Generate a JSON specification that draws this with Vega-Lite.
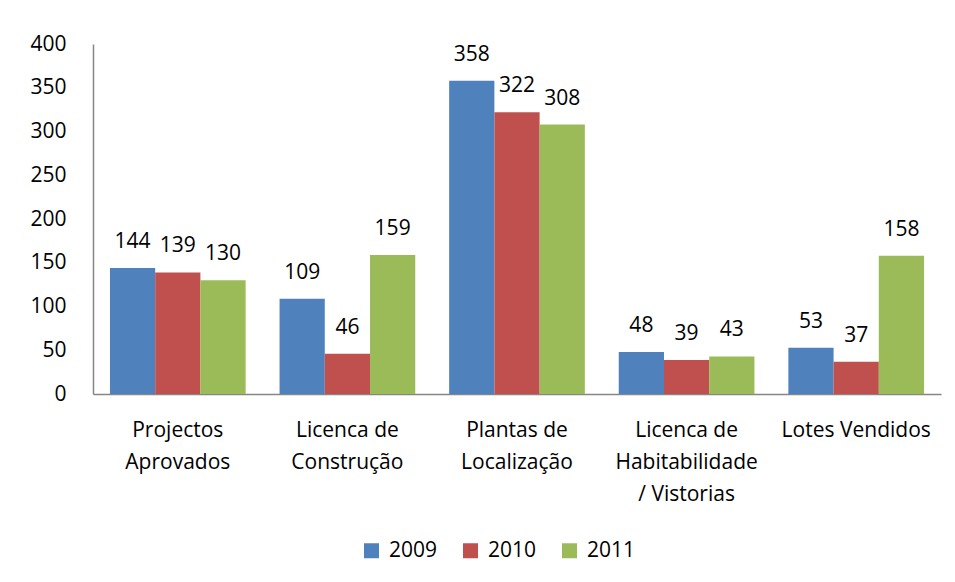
{
  "$schema": "https://vega.github.io/schema/vega-lite/v6.json",
  "autosize": {"type": "none"},
  "width": 848,
  "height": 350,
  "padding": {"left": 93, "top": 44, "right": 14, "bottom": 188},
  "background": "white",
  "config": {
    "view": {"stroke": null},
    "font": "Open Sans",
    "axis": {"labelFont": "Open Sans", "labelColor": "black", "labelFontSize": 21, "grid": false, "ticks": false, "domainColor": "#868686", "domainWidth": 1.5, "title": null},
    "legend": {"labelFont": "Open Sans", "labelFontSize": 21, "labelColor": "black"}
  },
  "data": {
    "values": [
      {"cat": "Projectos|Aprovados", "year": "2009", "v": 144},
      {"cat": "Projectos|Aprovados", "year": "2010", "v": 139},
      {"cat": "Projectos|Aprovados", "year": "2011", "v": 130},
      {"cat": "Licenca de|Construção", "year": "2009", "v": 109},
      {"cat": "Licenca de|Construção", "year": "2010", "v": 46},
      {"cat": "Licenca de|Construção", "year": "2011", "v": 159},
      {"cat": "Plantas de|Localização", "year": "2009", "v": 358},
      {"cat": "Plantas de|Localização", "year": "2010", "v": 322},
      {"cat": "Plantas de|Localização", "year": "2011", "v": 308},
      {"cat": "Licenca de|Habitabilidade|/ Vistorias", "year": "2009", "v": 48},
      {"cat": "Licenca de|Habitabilidade|/ Vistorias", "year": "2010", "v": 39},
      {"cat": "Licenca de|Habitabilidade|/ Vistorias", "year": "2011", "v": 43},
      {"cat": "Lotes Vendidos", "year": "2009", "v": 53},
      {"cat": "Lotes Vendidos", "year": "2010", "v": 37},
      {"cat": "Lotes Vendidos", "year": "2011", "v": 158}
    ]
  },
  "encoding": {
    "x": {
      "field": "cat", "type": "nominal", "sort": null,
      "scale": {"paddingInner": 0.2, "paddingOuter": 0.1},
      "axis": {"labelAngle": 0, "labelPadding": 25, "labelLineHeight": 32, "labelExpr": "split(datum.value, '|')", "labelLimit": 300}
    },
    "xOffset": {"field": "year", "type": "nominal", "scale": {"paddingInner": 0}},
    "y": {
      "field": "v", "type": "quantitative",
      "scale": {"domain": [0, 400], "nice": false},
      "axis": {"values": [0, 50, 100, 150, 200, 250, 300, 350, 400], "labelPadding": 27}
    }
  },
  "layer": [
    {
      "mark": {"type": "bar"},
      "encoding": {
        "color": {
          "field": "year", "type": "nominal",
          "scale": {"domain": ["2009", "2010", "2011"], "range": ["#4F81BD", "#C0504D", "#9BBB59"]},
          "legend": {"orient": "none", "legendX": 268, "legendY": 496, "direction": "horizontal", "title": null, "symbolType": "square", "symbolSize": 225, "symbolStrokeWidth": 0, "columnPadding": 22, "labelOffset": 7}
        }
      }
    },
    {
      "mark": {"type": "text", "baseline": "alphabetic", "dy": -20, "fontSize": 21, "font": "Open Sans", "color": "black"},
      "encoding": {"text": {"field": "v", "type": "quantitative"}}
    }
  ]
}
